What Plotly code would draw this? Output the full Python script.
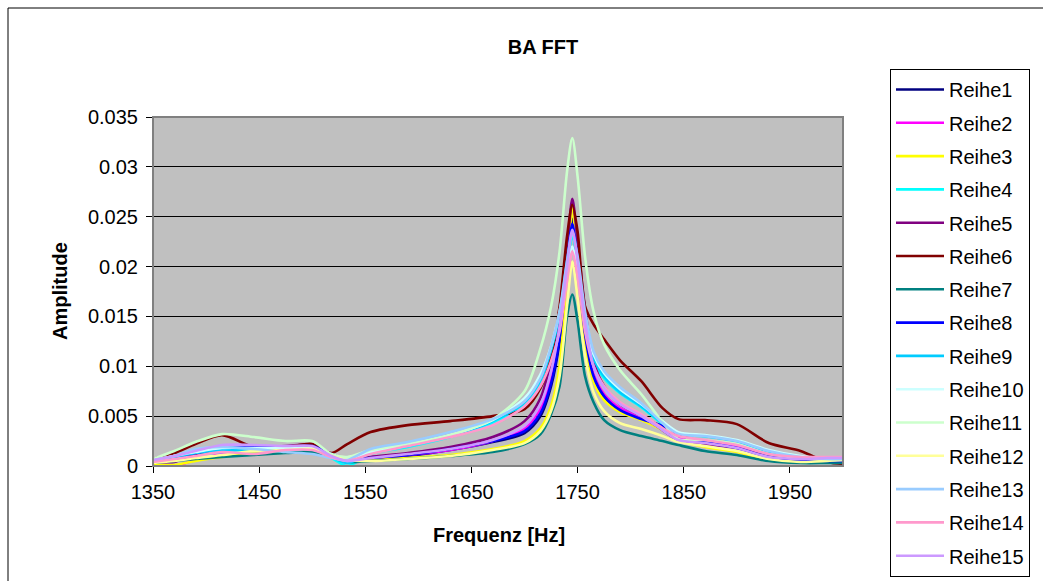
import plotly.graph_objects as go

FREQ = [1350, 1370, 1390, 1415, 1445, 1475, 1500, 1518, 1533, 1555, 1590, 1630, 1670, 1700,
        1715, 1725, 1733, 1740, 1745, 1750, 1757, 1765, 1775, 1790, 1810, 1830, 1845, 1870,
        1900, 1930, 1960, 1985, 2000]

R1 = [.0005, .0008, .0012, .0017, .0018, .0019, .0020, .0012, .0006, .0007, .0010, .0016, .0024, .0033,
      .0050, .0080, .0125, .0200, .0248, .0205, .0130, .0088, .0068, .0055, .0047, .0040, .0030, .0024,
      .0019, .0010, .0007, .0006, .0006]
R2 = [.0004, .0000, .0006, .0012, .0015, .0016, .0017, .0010, .0005, .0008, .0011, .0016, .0025, .0038,
      .0058, .0090, .0135, .0195, .0240, .0200, .0135, .0092, .0072, .0058, .0048, .0038, .0028, .0024,
      .0019, .0010, .0007, .0007, .0007]
R3 = [.0002, .0001, .0005, .0009, .0013, .0015, .0015, .0010, .0005, .0006, .0008, .0011, .0017, .0025,
      .0038, .0060, .0100, .0195, .0258, .0205, .0125, .0085, .0066, .0054, .0046, .0036, .0026, .0019,
      .0014, .0006, .0004, .0004, .0005]
R4 = [.0005, .0008, .0011, .0014, .0015, .0015, .0015, .0008, .0000, .0012, .0019, .0029, .0043, .0062,
      .0085, .0115, .0150, .0200, .0230, .0205, .0145, .0105, .0088, .0073, .0059, .0042, .0032, .0030,
      .0025, .0014, .0008, .0006, .0006]
R5 = [.0005, .0004, .0012, .0017, .0019, .0020, .0021, .0010, .0006, .0009, .0013, .0019, .0029, .0045,
      .0068, .0105, .0150, .0215, .0268, .0225, .0158, .0105, .0080, .0062, .0050, .0036, .0026, .0022,
      .0018, .0010, .0007, .0006, .0005]
R6 = [.0007, .0013, .0022, .0031, .0019, .0019, .0022, .0013, .0022, .0034, .0041, .0045, .0050, .0057,
      .0078, .0110, .0160, .0230, .0262, .0235, .0160, .0142, .0127, .0106, .0085, .0058, .0047, .0046,
      .0042, .0023, .0015, .0004, .0002]
R7 = [.0003, .0005, .0007, .0009, .0011, .0013, .0014, .0009, .0004, .0005, .0007, .0010, .0014, .0022,
      .0032, .0052, .0080, .0150, .0172, .0145, .0090, .0064, .0046, .0036, .0030, .0025, .0021, .0015,
      .0011, .0005, .0003, .0003, .0003]
R8 = [.0005, .0009, .0013, .0018, .0019, .0019, .0020, .0012, .0006, .0008, .0011, .0017, .0025, .0035,
      .0053, .0083, .0128, .0198, .0243, .0203, .0132, .0090, .0070, .0056, .0047, .0040, .0031, .0024,
      .0018, .0009, .0006, .0005, .0005]
R9 = [.0005, .0009, .0013, .0016, .0016, .0016, .0017, .0009, .0003, .0013, .0020, .0030, .0045, .0064,
      .0086, .0116, .0152, .0205, .0235, .0208, .0148, .0108, .0090, .0074, .0060, .0043, .0033, .0030,
      .0025, .0014, .0009, .0007, .0007]
R10 = [.0006, .0010, .0014, .0018, .0018, .0018, .0018, .0010, .0007, .0014, .0021, .0031, .0046, .0068,
       .0092, .0120, .0155, .0195, .0220, .0198, .0148, .0112, .0093, .0077, .0062, .0045, .0034, .0031,
       .0026, .0016, .0010, .0008, .0008]
R11 = [.0007, .0015, .0024, .0032, .0029, .0025, .0025, .0012, .0009, .0016, .0022, .0031, .0047, .0075,
       .0118, .0160, .0215, .0295, .0329, .0290, .0210, .0155, .0122, .0096, .0072, .0044, .0027, .0026,
       .0022, .0012, .0008, .0006, .0006]
R12 = [.0003, .0005, .0008, .0011, .0015, .0016, .0017, .0010, .0006, .0005, .0007, .0010, .0016, .0023,
       .0035, .0055, .0090, .0160, .0205, .0168, .0110, .0074, .0055, .0043, .0037, .0030, .0024, .0020,
       .0015, .0007, .0004, .0005, .0006]
R13 = [.0006, .0010, .0017, .0019, .0017, .0014, .0012, .0008, .0006, .0017, .0024, .0034, .0047, .0065,
       .0088, .0120, .0155, .0205, .0232, .0210, .0155, .0115, .0095, .0079, .0063, .0043, .0032, .0030,
       .0025, .0015, .0009, .0007, .0007]
R14 = [.0004, .0007, .0010, .0014, .0012, .0016, .0016, .0009, .0005, .0012, .0020, .0029, .0041, .0060,
       .0080, .0105, .0135, .0185, .0215, .0190, .0135, .0100, .0080, .0064, .0052, .0038, .0030, .0026,
       .0021, .0012, .0009, .0009, .0009]
R15 = [.0006, .0010, .0015, .0021, .0021, .0020, .0020, .0010, .0005, .0008, .0012, .0017, .0026, .0040,
       .0062, .0095, .0140, .0200, .0237, .0205, .0145, .0100, .0078, .0062, .0050, .0036, .0026, .0023,
       .0018, .0009, .0007, .0008, .0008]

SERIES = [R1, R2, R3, R4, R5, R6, R7, R8, R9, R10, R11, R12, R13, R14, R15]
NAMES = ["Reihe%d" % (i + 1) for i in range(15)]
COLORS = ["#000080", "#FF00FF", "#FFFF00", "#00FFFF", "#800080", "#800000", "#008080",
          "#0000FF", "#00CCFF", "#CCFFFF", "#CCFFCC", "#FFFF99", "#99CCFF", "#FF99CC", "#CC99FF"]

X_TICKS = [1350, 1450, 1550, 1650, 1750, 1850, 1950]
Y_TICKS = [0, 0.005, 0.01, 0.015, 0.02, 0.025, 0.03, 0.035]
Y_TICKTEXT = ["0", "0.005", "0.01", "0.015", "0.02", "0.025", "0.03", "0.035"]

FONT = "Liberation Sans, Arial, sans-serif"
FS = 20

fig = go.Figure()
for name, vals, col in zip(NAMES, SERIES, COLORS):
    fig.add_trace(go.Scatter(
        x=FREQ, y=vals, name=name, mode="lines", legendgroup=name,
        line=dict(color=col, width=2.6, shape="spline", smoothing=0.8),
    ))

# plot area geometry (px)
L, R, T, B = 153, 843, 117, 466
W, H = 1043, 581

def px_x(p):
    return (p - L) / (R - L)

def px_y(p):
    return (B - p) / (B - T)

fig.update_layout(
    width=W, height=H, autosize=False,
    margin=dict(l=L, r=W - R, t=T, b=H - B, pad=0),
    paper_bgcolor="white", plot_bgcolor="#C0C0C0",
    font=dict(family=FONT, size=FS, color="black"),
    showlegend=True,
    legend=dict(
        x=px_x(890), y=px_y(69), xanchor="left", yanchor="top",
        bgcolor="white", bordercolor="black", borderwidth=1,
        font=dict(family=FONT, size=FS, color="black"),
        tracegroupgap=4.3, itemwidth=48, maxheight=570,
    ),
    xaxis=dict(
        range=[1350, 2000], tickvals=X_TICKS, ticks="outside", ticklen=6,
        tickcolor="black", showgrid=False, zeroline=False,
        showline=True, linecolor="black", linewidth=1,
        tickfont=dict(family=FONT, size=FS), ticklabelstandoff=2,
    ),
    yaxis=dict(
        range=[0, 0.035], tickvals=Y_TICKS, ticktext=Y_TICKTEXT, ticks="outside", ticklen=6,
        tickcolor="black", showgrid=True, gridcolor="black", gridwidth=1, zeroline=False,
        showline=True, linecolor="black", linewidth=1,
        tickfont=dict(family=FONT, size=FS), ticklabelstandoff=4,
    ),
    title=dict(text="<b>BA FFT</b>", x=px_x(543), xref="paper", xanchor="center",
               y=1 - 47 / H, yref="container", yanchor="middle",
               font=dict(family=FONT, size=FS, color="black")),
    shapes=[
        dict(type="rect", xref="paper", yref="paper", x0=0, x1=1, y0=0, y1=1,
             line=dict(color="#808080", width=2), fillcolor="rgba(0,0,0,0)", layer="above"),
        dict(type="rect", xref="paper", yref="paper",
             x0=px_x(8), x1=px_x(1060), y0=px_y(600), y1=px_y(8),
             line=dict(color="black", width=1), fillcolor="rgba(0,0,0,0)", layer="below"),
    ],
    annotations=[
        dict(text="<b>Frequenz [Hz]</b>", xref="paper", yref="paper",
             x=px_x(499), y=px_y(535), xanchor="center", yanchor="middle",
             showarrow=False, font=dict(family=FONT, size=FS)),
        dict(text="<b>Amplitude</b>", xref="paper", yref="paper",
             x=px_x(60), y=px_y(291), xanchor="center", yanchor="middle", textangle=-90,
             showarrow=False, font=dict(family=FONT, size=FS)),
    ],
)

fig.write_html("out.html", config={"displayModeBar": False},
               post_script="document.body.style.margin='0px';document.body.style.overflow='hidden';")
